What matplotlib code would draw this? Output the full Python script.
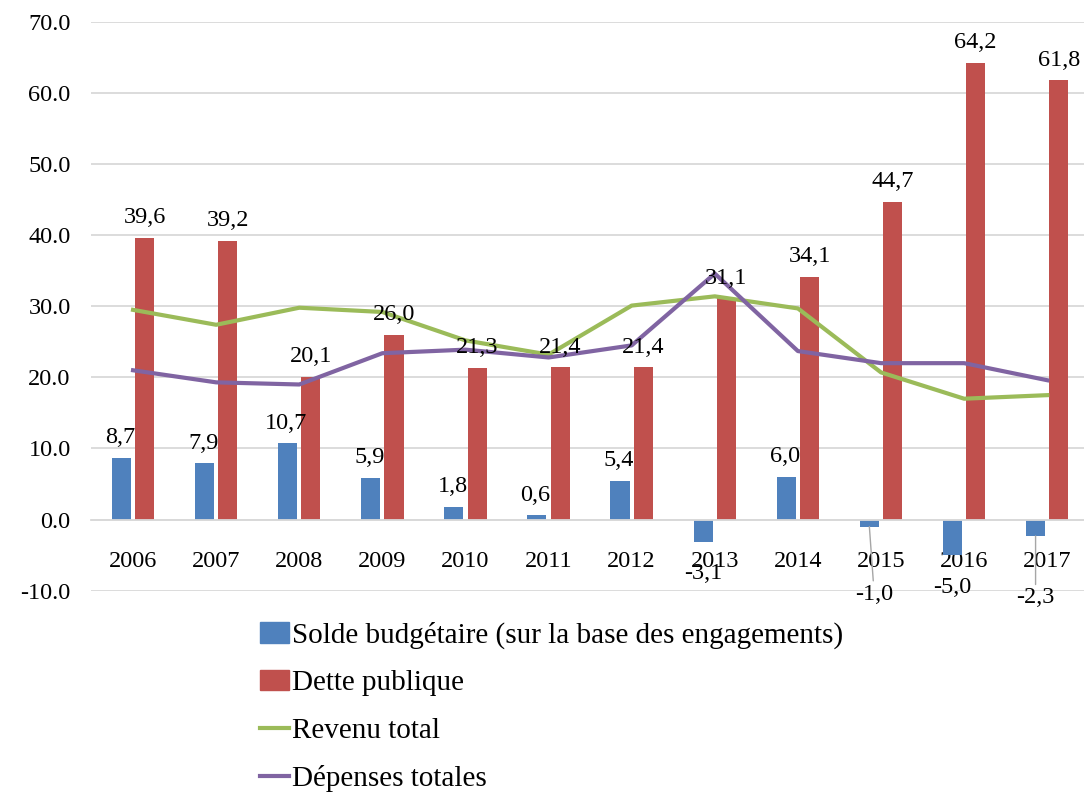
import matplotlib
matplotlib.use('Agg')
import matplotlib.pyplot as plt
from matplotlib.patches import Patch
from matplotlib.lines import Line2D
import numpy as np

years = ['2006', '2007', '2008', '2009', '2010', '2011', '2012', '2013', '2014', '2015', '2016', '2017']
solde = [8.7, 7.9, 10.7, 5.9, 1.8, 0.6, 5.4, -3.1, 6.0, -1.0, -5.0, -2.3]
dette = [39.6, 39.2, 20.1, 26.0, 21.3, 21.4, 21.4, 31.1, 34.1, 44.7, 64.2, 61.8]
revenu = [29.5, 27.4, 29.8, 29.2, 25.2, 23.2, 30.1, 31.4, 29.7, 20.7, 17.0, 17.5]
depenses = [21.0, 19.3, 19.0, 23.4, 23.9, 22.8, 24.5, 34.6, 23.7, 22.0, 22.0, 19.6]

BLUE = '#4F81BD'
RED = '#C0504D'
GREEN = '#9BBB59'
PURPLE = '#8064A2'
GRID = '#D9D9D9'

plt.rcParams['font.family'] = ['Liberation Serif', 'DejaVu Serif']

fig = plt.figure(figsize=(10.84, 7.93), dpi=100)
ax = fig.add_axes([0.0844, 0.2552, 0.92, 0.7171])

x = np.arange(len(years))
w = 0.23
ax.bar(x - 0.14, solde, w, color=BLUE, zorder=2)
ax.bar(x + 0.14, dette, w, color=RED, zorder=2)
ax.plot(x, revenu, color=GREEN, lw=3, zorder=3, solid_joinstyle='round')
ax.plot(x, depenses, color=PURPLE, lw=3, zorder=4, solid_joinstyle='round')

# etiquettes
lab_fs = 17.5
for i, v in enumerate(dette):
    ax.annotate(f'{v:.1f}'.replace('.', ','), (x[i] + 0.14, v), xytext=(0, 7),
                textcoords='offset points', ha='center', va='bottom',
                fontsize=lab_fs, zorder=5)

# decalages particuliers pour les valeurs negatives (points)
neg_off = {9: (3.5, -41), 11: (0, -37)}
for i, v in enumerate(solde):
    txt = f'{v:.1f}'.replace('.', ',')
    if v >= 0:
        ax.annotate(txt, (x[i] - 0.14, v), xytext=(-1, 7),
                    textcoords='offset points', ha='center', va='bottom',
                    fontsize=lab_fs, zorder=5)
    elif i in neg_off:
        ax.annotate(txt, (x[i] - 0.14, v), xytext=neg_off[i],
                    textcoords='offset points', ha='center', va='top',
                    fontsize=lab_fs, zorder=5,
                    arrowprops=dict(arrowstyle='-', color='#A6A6A6', lw=1,
                                    shrinkA=0, shrinkB=0))
    else:
        ax.annotate(txt, (x[i] - 0.14, v), xytext=(0, -15.5),
                    textcoords='offset points', ha='center', va='top',
                    fontsize=lab_fs, zorder=5)

ax.set_xlim(-0.5, 11.5)
ax.set_ylim(-10, 70)
ax.set_yticks(np.arange(-10, 71, 10))
ax.set_yticklabels([f'{t:.1f}' for t in np.arange(-10, 71, 10)])
ax.set_xticks(x)
ax.set_xticklabels(years)
ax.yaxis.grid(True, color=GRID, lw=1.3, zorder=0)
ax.set_axisbelow(True)
for s in ['left', 'right', 'top']:
    ax.spines[s].set_visible(False)
ax.spines['bottom'].set_position(('data', 0))
ax.spines['bottom'].set_color(GRID)
ax.spines['bottom'].set_linewidth(1.3)
ax.tick_params(axis='both', length=0, labelsize=17.5)
ax.tick_params(axis='y', pad=15)
ax.tick_params(axis='x', pad=23)

handles = [Patch(color=BLUE), Patch(color=RED),
           Line2D([], [], color=GREEN, lw=3), Line2D([], [], color=PURPLE, lw=3)]
labels = ['Solde budgétaire (sur la base des engagements)', 'Dette publique',
          'Revenu total', 'Dépenses totales']
fig.legend(handles, labels, loc='upper left', bbox_to_anchor=(0.24, 0.216),
           frameon=False, fontsize=21, handlelength=1.0, handletextpad=0.1,
           labelspacing=0.72, borderaxespad=0, borderpad=0)

fig.savefig('out.png', dpi=100)
